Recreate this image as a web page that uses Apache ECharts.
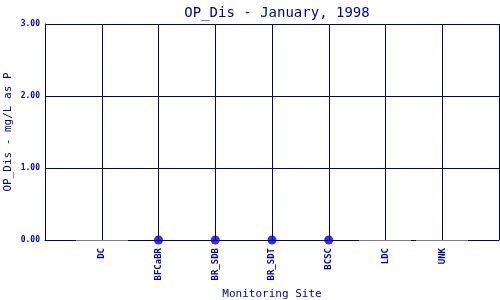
<!DOCTYPE html>
<html><head><meta charset="utf-8">
<script src="https://cdn.jsdelivr.net/npm/echarts@6/dist/echarts.min.js"></script>
<style>html,body{margin:0;padding:0;background:#fff}#c{width:500px;height:300px}</style>
</head><body><div id="c"></div>
<script>
const sites = ['DC', 'BFCaBR', 'BR_SDB', 'BR_SDT', 'BCSC', 'LDC', 'UNK'];
const values = [null, 0, 0, 0, 0, null, null];
const yTicks = ['0.00', '1.00', '2.00', '3.00'];

const navy = '#000080';
const txt = '#000099';
const font = 'DejaVu Sans Mono';

const pts = [];
const missing = [];
sites.forEach((s, i) => {
  if (values[i] === null) missing.push([i + 1, 0]);
  else pts.push([i + 1, values[i]]);
});

const chart = echarts.init(document.getElementById('c'));
chart.setOption({
  animation: false,
  title: {
    text: 'OP_Dis - January, 1998', left: 272, top: 1, textAlign: 'center',
    textStyle: { fontFamily: font, fontSize: 14, fontWeight: 'normal', color: txt }
  },
  grid: { left: 45, right: 1, top: 24, bottom: 60, containLabel: false, outerBoundsMode: 'none' },
  xAxis: {
    type: 'value', min: 0, max: 8, interval: 1,
    name: 'Monitoring Site', nameLocation: 'middle', nameGap: 49, nameMoveOverlap: false,
    nameTextStyle: { fontFamily: font, fontSize: 11, color: txt },
    axisLine: { show: true, lineStyle: { color: navy, width: 1 } },
    axisTick: { show: false },
    splitLine: { show: true, lineStyle: { color: navy, width: 1 } },
    axisLabel: {
      rotate: 90, margin: 8, fontFamily: font, fontSize: 9, fontWeight: 'bold', color: txt,
      formatter: v => (v >= 1 && v <= sites.length) ? sites[v - 1] : ''
    }
  },
  yAxis: {
    type: 'value', min: 0, max: 3, interval: 1,
    name: 'OP_Dis - mg/L as P', nameLocation: 'middle', nameGap: 31, nameMoveOverlap: false,
    nameTextStyle: { fontFamily: font, fontSize: 11, color: txt },
    axisLine: { show: true, lineStyle: { color: navy, width: 1 } },
    axisTick: { show: false },
    splitLine: { show: true, lineStyle: { color: navy, width: 1 } },
    axisLabel: {
      margin: 5, fontFamily: font, fontSize: 8, fontWeight: 'bold', color: txt,
      formatter: v => yTicks[Math.round(v)]
    }
  },
  series: [
    {
      type: 'custom', data: missing, z: 10, clip: false,
      renderItem: (params, api) => {
        const a = api.coord([api.value(0) - 0.46, api.value(1)]);
        const b = api.coord([api.value(0) + 0.46, api.value(1)]);
        const y = Math.round(a[1]);
        return { type: 'rect', shape: { x: Math.round(a[0]), y: y, width: Math.round(b[0] - a[0]), height: 1 },
                 style: { fill: '#808080' } };
      }
    },
    {
      type: 'scatter', data: pts, symbol: 'circle', symbolSize: 9, z: 11,
      itemStyle: { color: '#0000cc' }
    }
  ]
});
</script></body></html>
